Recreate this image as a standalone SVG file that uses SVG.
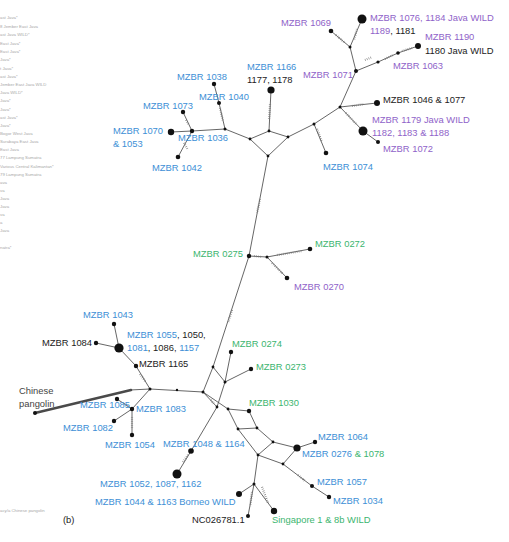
<svg xmlns="http://www.w3.org/2000/svg" width="509" height="542" viewBox="0 0 509 542">
<style>
text{font-family:"Liberation Sans",Arial,sans-serif;font-size:9.4px}
.b{fill:#3d8fd6}.p{fill:#8f63c9}.g{fill:#3cb56f}.k{fill:#222}
.lg{font-size:4.3px;fill:#a8a8a8}
.e{stroke:#555;stroke-width:0.9;fill:none}
.h{stroke:#777;stroke-width:2.2;stroke-dasharray:0.6 1.4;fill:none}
.n{fill:#111}
</style>
<rect width="509" height="542" fill="#fff"/>
<g id="legend">
<text class="lg" x="0" y="18.5">ast Java*</text>
<text class="lg" x="0" y="27.5">8 Jember East Java</text>
<text class="lg" x="0" y="35.5">ast Java WILD*</text>
<text class="lg" x="0" y="44.5">East Java*</text>
<text class="lg" x="0" y="52.5">East Java*</text>
<text class="lg" x="0" y="60.5">Java*</text>
<text class="lg" x="0" y="69.5">t Java*</text>
<text class="lg" x="0" y="77.5">ast Java*</text>
<text class="lg" x="0" y="85.5">Jember East Java WILD</text>
<text class="lg" x="0" y="93.5">Java WILD*</text>
<text class="lg" x="0" y="101.5">Java*</text>
<text class="lg" x="0" y="110.5">Java*</text>
<text class="lg" x="0" y="118.5">ast Java*</text>
<text class="lg" x="0" y="126.5">Java*</text>
<text class="lg" x="0" y="134.5">Bogor West Java</text>
<text class="lg" x="0" y="142.5">Surabaya East Java</text>
<text class="lg" x="0" y="150.5">East Java</text>
<text class="lg" x="0" y="158.5">77 Lampung Sumatra</text>
<text class="lg" x="0" y="167.5">Various Central Kalimantan*</text>
<text class="lg" x="0" y="175.5">79 Lampung Sumatra</text>
<text class="lg" x="0" y="183.5">ava</text>
<text class="lg" x="0" y="191.5">va</text>
<text class="lg" x="0" y="199.5">Java</text>
<text class="lg" x="0" y="207.5">Java</text>
<text class="lg" x="0" y="215.5">va</text>
<text class="lg" x="0" y="223.5">a</text>
<text class="lg" x="0" y="231.5">Java</text>
<text class="lg" x="0" y="248.5">natra*</text>
<text class="lg" x="0" y="511.5">acy/a Chinese pangolin</text>
</g>
<g id="connectors">
<polyline class="e" points="331,31 350,47 362,19"/>
<polyline class="e" points="350,47 356,71 340,107 314,124 288,137"/>
<polyline class="e" points="356,71 378,62 398,53 418,46"/>
<line class="e" x1="340" y1="107" x2="377" y2="103"/>
<polyline class="e" points="340,107 363,131 378,142"/>
<line class="e" x1="314" y1="124" x2="326" y2="153"/>
<polygon class="e" points="269,131 288,137 268,156 250,139"/>
<line class="e" x1="269" y1="131" x2="271" y2="90"/>
<polyline class="e" points="250,139 225,129 219,103 214,84"/>
<polyline class="e" points="225,129 192,131 171,132"/>
<line class="e" x1="192" y1="131" x2="183" y2="112"/>
<line class="e" x1="192" y1="131" x2="178" y2="157"/>
<polyline class="e" points="268,156 249,256 213,367 203,392"/>
<polyline class="e" points="249,256 267,257 310,249"/>
<line class="e" x1="267" y1="257" x2="287" y2="278"/>
<polyline class="e" points="213,367 225,382 217,407 203,392"/>
<line class="e" x1="225" y1="382" x2="231" y2="352"/>
<line class="e" x1="225" y1="382" x2="251" y2="369"/>
<polyline class="e" points="203,392 228,409 249,411 257,428 273,442"/>
<polyline class="e" points="228,409 238,429 257,428"/>
<polyline class="e" points="238,429 258,455 254,484"/>
<polygon class="e" points="273,442 297,448 283,464 258,455"/>
<line class="e" x1="297" y1="448" x2="315" y2="442"/>
<polyline class="e" points="283,464 312,486 329,497"/>
<polyline class="e" points="217,407 191,451 177,474"/>
<line class="e" x1="254" y1="484" x2="239" y2="494"/>
<line class="e" x1="254" y1="484" x2="248" y2="516"/>
<line class="e" x1="254" y1="484" x2="274" y2="511"/>
<polyline class="e" points="114,324 119,348 136,366 150,389 203,392"/>
<line class="e" x1="96" y1="343" x2="119" y2="348"/>
<polyline class="e" points="150,389 132,409 114,421"/>
<line class="e" x1="132" y1="409" x2="132" y2="435"/>
<line class="e" x1="132" y1="409" x2="117" y2="399"/>
<line class="e" x1="150" y1="389" x2="130" y2="390"/>
<line x1="35" y1="413" x2="131" y2="390" stroke="#4a4a4a" stroke-width="2.6" stroke-linecap="round"/>
<line class="h" x1="336" y1="35" x2="345" y2="43"/>
<line class="h" x1="357" y1="29" x2="354" y2="40"/>
<line class="h" x1="365" y1="60" x2="372" y2="57"/>
<line class="h" x1="385" y1="59" x2="393" y2="55"/>
<line class="h" x1="402" y1="51" x2="412" y2="48"/>
<line class="h" x1="352" y1="106" x2="364" y2="104"/>
<line class="h" x1="346" y1="113" x2="356" y2="124"/>
<line class="h" x1="317" y1="129" x2="322" y2="142"/>
<line class="h" x1="270" y1="104" x2="269" y2="119"/>
<line class="h" x1="220" y1="108" x2="223" y2="121"/>
<line class="h" x1="184" y1="143" x2="188" y2="150"/>
<line class="h" x1="186" y1="120" x2="189" y2="125"/>
<line class="h" x1="260" y1="199" x2="257" y2="213"/>
<line class="h" x1="254" y1="256" x2="262" y2="257"/>
<line class="h" x1="277" y1="255" x2="302" y2="251"/>
<line class="h" x1="272" y1="263" x2="283" y2="274"/>
<line class="h" x1="232" y1="310" x2="228" y2="323"/>
<line class="h" x1="211" y1="400" x2="214" y2="404"/>
<line class="h" x1="183" y1="462" x2="188" y2="455"/>
<line class="h" x1="140" y1="374" x2="145" y2="381"/>
<line class="h" x1="124" y1="404" x2="128" y2="406"/>
<line class="h" x1="132" y1="417" x2="132" y2="428"/>
<line class="h" x1="262" y1="487" x2="268" y2="503"/>
<line class="h" x1="252" y1="492" x2="250" y2="506"/>
<line class="h" x1="298" y1="475" x2="305" y2="481"/>
</g>
<g id="nodes">
<g id="n1069"><circle class="n" cx="331" cy="31" r="2.3"/><text class="p" x="281" y="25.5">MZBR 1069</text></g>
<g id="n1076"><circle class="n" cx="362" cy="19" r="4.5"/><text x="370" y="20.5" class="p">MZBR 1076, 1184 Java WILD</text><text x="370" y="33.5"><tspan class="p">1189</tspan><tspan class="k">, 1181</tspan></text></g>
<g id="j5"><circle class="n" cx="350" cy="47" r="1.5"/></g>
<g id="n1071"><circle class="n" cx="356" cy="71" r="2"/><text class="p" x="303" y="77.5">MZBR 1071</text></g>
<g id="n1063"><circle class="n" cx="378" cy="62" r="1.6"/><circle class="n" cx="398" cy="53" r="1.8"/><text class="p" x="393" y="68.5">MZBR 1063</text></g>
<g id="n1190"><circle class="n" cx="418" cy="46" r="3"/><text class="p" x="425" y="39.5">MZBR 1190</text><text class="k" x="425" y="53.5">1180 Java WILD</text></g>
<g id="j4"><circle class="n" cx="340" cy="107" r="1.5"/></g>
<g id="n1046"><circle class="n" cx="377" cy="103" r="3"/><text class="k" x="383" y="102.5">MZBR 1046 &amp; 1077</text></g>
<g id="n1179"><circle class="n" cx="363" cy="131" r="4.5"/><text class="p" x="372" y="122.5">MZBR 1179 Java WILD</text><text class="p" x="372" y="135.5">1182, 1183 &amp; 1188</text></g>
<g id="n1072"><circle class="n" cx="378" cy="142" r="2"/><text class="p" x="383" y="151.5">MZBR 1072</text></g>
<g id="j3"><circle class="n" cx="314" cy="124" r="1.5"/></g>
<g id="n1074"><circle class="n" cx="326" cy="153" r="2.3"/><text class="b" x="323" y="169.5">MZBR 1074</text></g>
<g id="diamond"><circle class="n" cx="269" cy="131" r="1.4"/><circle class="n" cx="288" cy="137" r="1.4"/><circle class="n" cx="268" cy="156" r="1.4"/><circle class="n" cx="250" cy="139" r="1.4"/></g>
<g id="n1166"><circle class="n" cx="271" cy="90" r="3.6"/><text class="b" x="247" y="69.5">MZBR 1166</text><text class="k" x="247" y="82.5">1177, 1178</text></g>
<g id="j1"><circle class="n" cx="225" cy="129" r="1.5"/></g>
<g id="n1040"><circle class="n" cx="219" cy="103" r="2"/><text class="b" x="199" y="99.5">MZBR 1040</text></g>
<g id="n1038"><circle class="n" cx="214" cy="84" r="2.2"/><text class="b" x="177" y="79.5">MZBR 1038</text></g>
<g id="n1036"><circle class="n" cx="192" cy="131" r="2.2"/><text class="b" x="178" y="140.5">MZBR 1036</text></g>
<g id="n1070"><circle class="n" cx="171" cy="132" r="3.2"/><text class="b" x="113" y="133.5">MZBR 1070</text><text class="b" x="113" y="146.5">&amp; 1053</text></g>
<g id="n1073"><circle class="n" cx="183" cy="112" r="2.2"/><text class="b" x="143" y="108.5">MZBR 1073</text></g>
<g id="n1042"><circle class="n" cx="178" cy="157" r="2.3"/><text class="b" x="152" y="170.5">MZBR 1042</text></g>
<g id="n0275"><circle class="n" cx="249" cy="256" r="2.2"/><text class="g" x="193" y="256.5">MZBR 0275</text></g>
<g id="j6"><circle class="n" cx="267" cy="257" r="1.5"/></g>
<g id="n0272"><circle class="n" cx="310" cy="249" r="2.3"/><text class="g" x="315" y="246.5">MZBR 0272</text></g>
<g id="n0270"><circle class="n" cx="287" cy="278" r="2.3"/><text class="p" x="294" y="289.5">MZBR 0270</text></g>
<g id="n1043"><circle class="n" cx="114" cy="324" r="2.2"/><text class="b" x="83" y="317.5">MZBR 1043</text></g>
<g id="n1084"><circle class="n" cx="96" cy="343" r="2.2"/><text class="k" x="42" y="345.5">MZBR 1084</text></g>
<g id="n1055"><circle class="n" cx="119" cy="348" r="4.6"/><text x="127" y="337.5"><tspan class="b">MZBR 1055</tspan><tspan class="k">, 1050,</tspan></text><text x="127" y="350.5"><tspan class="b">1081</tspan><tspan class="k">, 1086, </tspan><tspan class="b">1157</tspan></text></g>
<g id="n1165"><circle class="n" cx="136" cy="366" r="2.2"/><text class="k" x="139" y="366.5">MZBR 1165</text></g>
<g id="j7"><circle class="n" cx="150" cy="389" r="1.5"/><circle class="n" cx="177" cy="390" r="1.2"/></g>
<g id="pangolin"><circle class="n" cx="35" cy="413" r="2"/><text x="19" y="393.5" fill="#444">Chinese</text><text x="19" y="406.5" fill="#444">pangolin</text></g>
<g id="n1085"><circle class="n" cx="117" cy="399" r="2.2"/><text class="b" x="80" y="407.5">MZBR 1085</text></g>
<g id="n1083"><circle class="n" cx="132" cy="409" r="2.2"/><text class="b" x="136" y="411.5">MZBR 1083</text></g>
<g id="n1082"><circle class="n" cx="114" cy="421" r="2.2"/><text class="b" x="63" y="430.5">MZBR 1082</text></g>
<g id="n1054"><circle class="n" cx="132" cy="435" r="2.2"/><text class="b" x="105" y="447.5">MZBR 1054</text></g>
<g id="junctions"><circle class="n" cx="203" cy="392" r="1.5"/><circle class="n" cx="213" cy="367" r="1.4"/><circle class="n" cx="225" cy="382" r="1.5"/><circle class="n" cx="217" cy="407" r="1.4"/><circle class="n" cx="228" cy="409" r="1.4"/><circle class="n" cx="238" cy="429" r="1.4"/><circle class="n" cx="257" cy="428" r="1.4"/><circle class="n" cx="273" cy="442" r="1.4"/><circle class="n" cx="258" cy="455" r="1.4"/><circle class="n" cx="283" cy="464" r="1.4"/><circle class="n" cx="254" cy="484" r="1.5"/></g>
<g id="n0274"><circle class="n" cx="231" cy="352" r="2.2"/><text class="g" x="232" y="346.5">MZBR 0274</text></g>
<g id="n0273"><circle class="n" cx="251" cy="369" r="2.2"/><text class="g" x="256" y="369.5">MZBR 0273</text></g>
<g id="n1030"><circle class="n" cx="249" cy="411" r="2.2"/><text class="g" x="249" y="405.5">MZBR 1030</text></g>
<g id="n1064"><circle class="n" cx="315" cy="442" r="2.2"/><text class="b" x="318" y="439.5">MZBR 1064</text></g>
<g id="n0276"><circle class="n" cx="297" cy="448" r="3.6"/><text x="302" y="456.5"><tspan class="b">MZBR 0276 </tspan><tspan class="g">&amp; 1078</tspan></text></g>
<g id="n1048"><circle class="n" cx="191" cy="451" r="2.8"/><text class="b" x="163" y="446.5">MZBR 1048 &amp; 1164</text></g>
<g id="n1052"><circle class="n" cx="177" cy="474" r="4.5"/><text class="b" x="100" y="486.5">MZBR 1052, 1087, 1162</text></g>
<g id="n1057"><circle class="n" cx="312" cy="486" r="2"/><text class="b" x="317" y="484.5">MZBR 1057</text></g>
<g id="n1034"><circle class="n" cx="329" cy="497" r="2.2"/><text class="b" x="333" y="503.5">MZBR 1034</text></g>
<g id="n1044"><circle class="n" cx="239" cy="494" r="3"/><text class="b" x="95" y="504.5">MZBR 1044 &amp; 1163 Borneo WILD</text></g>
<g id="nNC"><circle class="n" cx="248" cy="516" r="2"/><text class="k" x="192" y="522.5">NC026781.1</text></g>
<g id="nSing"><circle class="n" cx="274" cy="511" r="3.2"/><text class="g" x="272" y="522.5">Singapore 1 &amp; 8b WILD</text></g>
<text class="k" x="63" y="522.5" fill="#333">(b)</text>
</g>
</svg>
